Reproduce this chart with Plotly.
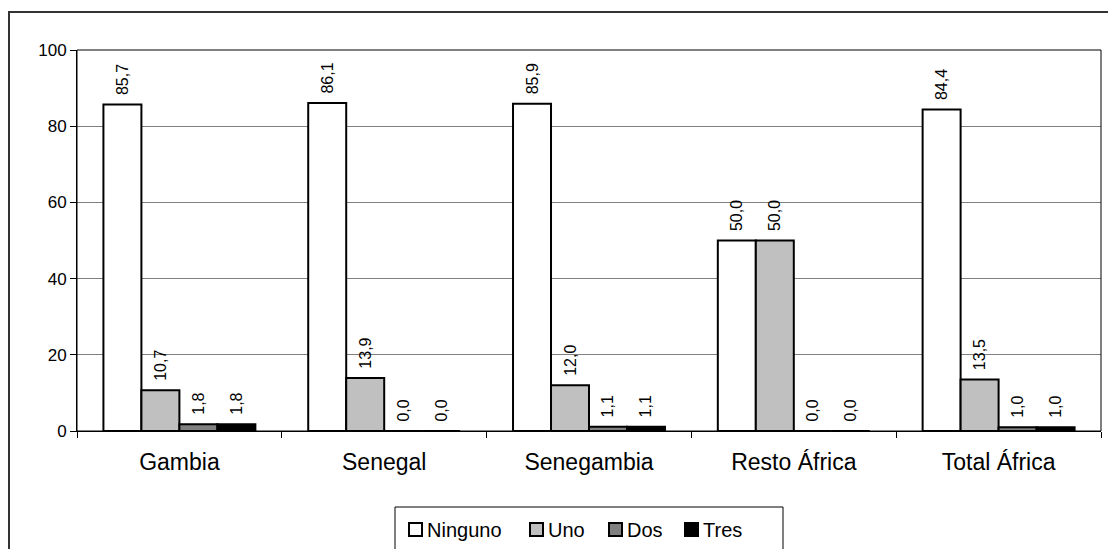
import plotly.graph_objects as go

categories = ["Gambia", "Senegal", "Senegambia", "Resto África", "Total África"]
series_names = ["Ninguno", "Uno", "Dos", "Tres"]
ninguno = [85.7, 86.1, 85.9, 50.0, 84.4]
uno = [10.7, 13.9, 12.0, 50.0, 13.5]
dos = [1.8, 0.0, 1.1, 0.0, 1.0]
tres = [1.8, 0.0, 1.1, 0.0, 1.0]
series_values = [ninguno, uno, dos, tres]
colors = ["#FFFFFF", "#C0C0C0", "#808080", "#000000"]
y_ticks = [0, 20, 40, 60, 80, 100]

W, H = 1108, 549
L, R, T, B = 77, 7, 50, 118
PW, PH = W - L - R, H - T - B
FONT = "Arial, Liberation Sans, sans-serif"


def px(x):
    return (x - L) / PW


def py(y):
    return (H - B - y) / PH


fig = go.Figure()
for name, vals, col in zip(series_names, series_values, colors):
    fig.add_trace(go.Bar(
        name=name, x=categories, y=vals,
        marker=dict(color=col, line=dict(color="#000000", width=2)),
        text=["\u2009\u2009" + f"{v:.1f}".replace(".", ",") for v in vals],
        textposition="outside", textangle=-90,
        textfont=dict(family=FONT, size=16, color="#000000"),
        constraintext="none", cliponaxis=False,
        showlegend=False, hoverinfo="skip",
    ))

shapes = []
# outer chart border (cut off at right/bottom like the reference)
shapes.append(dict(type="rect", xref="paper", yref="paper",
                   x0=px(9), x1=px(1130), y0=py(570), y1=py(12),
                   line=dict(color="#333333", width=2), layer="below"))
# plot area frame
shapes.append(dict(type="rect", xref="paper", yref="paper",
                   x0=0, x1=1, y0=0, y1=1,
                   line=dict(color="#000000", width=1), layer="above"))

# manual legend
annotations = []
shapes.append(dict(type="rect", xref="paper", yref="paper",
                   x0=px(395), x1=px(783), y0=py(560), y1=py(507),
                   line=dict(color="#000000", width=1), fillcolor="#FFFFFF"))
sq_x = [409, 530, 609, 685]
for name, col, sx in zip(series_names, colors, sq_x):
    shapes.append(dict(type="rect", xref="paper", yref="paper",
                       x0=px(sx), x1=px(sx + 13), y0=py(536), y1=py(523),
                       line=dict(color="#000000", width=2), fillcolor=col))
    annotations.append(dict(xref="paper", yref="paper", x=px(sx + 16), y=py(529.5),
                            text=name, showarrow=False, xanchor="left", yanchor="middle",
                            font=dict(family=FONT, size=20, color="#000000")))

fig.update_layout(
    width=W, height=H, autosize=False,
    margin=dict(l=L, r=R, t=T, b=B, pad=0),
    paper_bgcolor="#FFFFFF", plot_bgcolor="#FFFFFF",
    barmode="group", bargap=0.258, bargroupgap=0,
    font=dict(family=FONT, color="#000000"),
    shapes=shapes, annotations=annotations,
    showlegend=False,
)
fig.update_xaxes(
    type="category", tickson="boundaries", ticks="outside", ticklen=6,
    tickcolor="#000000", showline=True, linecolor="#000000", linewidth=1,
    showgrid=False, tickfont=dict(family=FONT, size=23, color="#000000"),
    ticklabelstandoff=10,
)
fig.update_yaxes(
    range=[0, 100], tickvals=y_ticks, ticks="outside", ticklen=6,
    tickcolor="#000000", showline=True, linecolor="#000000", linewidth=1,
    showgrid=True, gridcolor="#808080", gridwidth=1, zeroline=False,
    tickfont=dict(family=FONT, size=17, color="#000000"),
)
fig.write_html(
    "out.html",
    config={"displayModeBar": False, "staticPlot": True},
    post_script="document.body.style.margin='0';document.body.style.overflow='hidden';",
)
